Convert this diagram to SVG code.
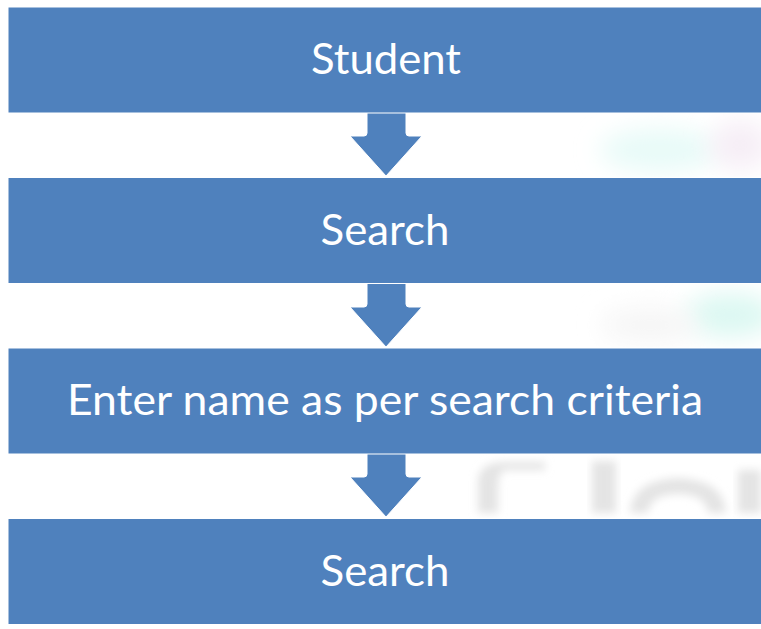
<svg xmlns="http://www.w3.org/2000/svg" width="761" height="629" viewBox="0 0 761 629">
  <defs>
    <filter id="blur" x="-20%" y="-20%" width="140%" height="140%"><feGaussianBlur stdDeviation="4"/></filter>
    <filter id="blur2" x="-50%" y="-50%" width="200%" height="200%"><feGaussianBlur stdDeviation="12"/></filter>
  </defs>
  <style>
    .box { fill: #4F81BD; stroke: #ffffff; stroke-width: 1; }
    .arrow { fill: #4F81BD; stroke: #ffffff; stroke-width: 1; stroke-linejoin: round; }
    .label { fill: #ffffff; font-family: Lato, "Open Sans", "Liberation Sans", sans-serif; font-size: 42px; text-anchor: middle; }
    .wm { fill: #e4e4e4; filter: url(#blur); }
  </style>
  <rect width="761" height="629" fill="#ffffff"/>
  <g id="background">
    <ellipse cx="660" cy="150" rx="60" ry="22" fill="#e8fbf8" filter="url(#blur2)"/>
    <ellipse cx="740" cy="145" rx="30" ry="25" fill="#f6eef6" filter="url(#blur2)"/>
    <ellipse cx="730" cy="315" rx="45" ry="22" fill="#dcf8f2" filter="url(#blur2)"/>
    <ellipse cx="650" cy="325" rx="50" ry="18" fill="#f6f6f6" filter="url(#blur2)"/>
    <g>
      <path class="wm" d="M478,513 L478,480 Q480,462 505,462 L545,462 L545,470 L505,470 Q498,472 498,488 L498,513 Z"/>
      <rect class="wm" x="592" y="461" width="24" height="52"/>
      <path class="wm" d="M630,513 Q632,480 678,478 Q724,480 726,513 L708,513 Q706,494 678,494 Q650,494 648,513 Z"/>
      <rect class="wm" x="738" y="470" width="23" height="43"/>
    </g>
  </g>
  <g id="connectors">
    <path class="arrow" d="M367,112 L406,112 L406,133 Q406,136 409,136 L422,136 L386,176 L350,136 L364,136 Q367,136 367,133 Z"/>
    <path class="arrow" d="M367,283 L406,283 L406,304 Q406,307 409,307 L422,307 L386,347 L350,307 L364,307 Q367,307 367,304 Z"/>
    <path class="arrow" d="M367,453 L406,453 L406,474 Q406,477 409,477 L422,477 L386,517 L350,477 L364,477 Q367,477 367,474 Z"/>
  </g>
  <g id="node1">
    <rect class="box" x="8" y="7" width="756" height="106"/>
    <text class="label" x="386" y="74" textLength="150" lengthAdjust="spacingAndGlyphs">Student</text>
  </g>
  <g id="node2">
    <rect class="box" x="8" y="177.5" width="756" height="106"/>
    <text class="label" x="385" y="244.5" textLength="129" lengthAdjust="spacingAndGlyphs">Search</text>
  </g>
  <g id="node3">
    <rect class="box" x="8" y="348" width="756" height="106"/>
    <text class="label" x="385" y="415" textLength="636" lengthAdjust="spacingAndGlyphs">Enter name as per search criteria</text>
  </g>
  <g id="node4">
    <rect class="box" x="8" y="518.5" width="756" height="106"/>
    <text class="label" x="385" y="585.5" textLength="129" lengthAdjust="spacingAndGlyphs">Search</text>
  </g>
</svg>
